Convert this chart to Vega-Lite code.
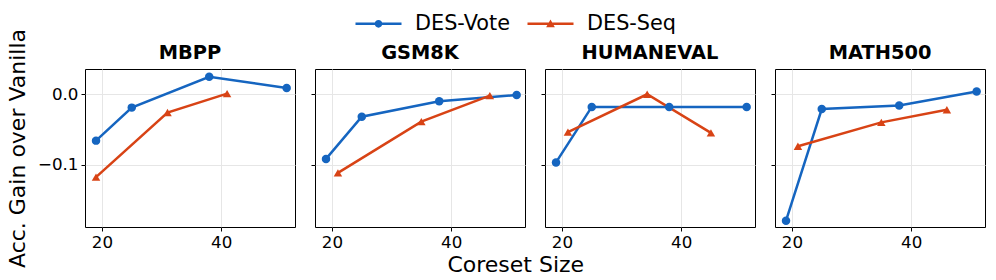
{
  "$schema": "https://vega.github.io/schema/vega-lite/v6.json",
  "padding": {"left": 5, "top": 12, "right": 5, "bottom": 3},
  "background": "white",
  "title": {"text": "Coreset Size", "orient": "bottom", "anchor": "middle", "frame": "bounds", "dx": 20, "fontSize": 22, "font": "DejaVu Sans", "fontWeight": "normal", "offset": -13, "color": "black"},
  "config": {
    "font": "DejaVu Sans",
    "view": {"stroke": "black", "strokeWidth": 1},
    "concat": {"spacing": 14},
    "axis": {"labelFont": "DejaVu Sans", "labelFontSize": 16.7, "labelColor": "black", "tickColor": "black", "tickSize": 4, "domain": false, "gridColor": "#e6e6e6", "gridWidth": 1, "labelPadding": 3, "titleFont": "DejaVu Sans", "titleFontSize": 22, "titleFontWeight": "normal", "titleColor": "black"},
    "title": {"font": "DejaVu Sans", "fontSize": 19.4, "fontWeight": "bold", "color": "black", "offset": 6},
    "legend": {"labelFont": "DejaVu Sans", "labelFontSize": 20.8, "labelColor": "black", "orient": "none", "legendX": 282, "legendY": -57, "direction": "horizontal", "symbolSize": 529, "symbolStrokeWidth": 0, "symbolOpacity": 1, "labelOffset": 25, "columnPadding": 17}
  },
  "data": {"values": [
    {"dataset": "MBPP", "method": "DES-Vote", "size": 19, "gain": -0.066},
    {"dataset": "MBPP", "method": "DES-Vote", "size": 25, "gain": -0.019},
    {"dataset": "MBPP", "method": "DES-Vote", "size": 38, "gain": 0.025},
    {"dataset": "MBPP", "method": "DES-Vote", "size": 51, "gain": 0.009},
    {"dataset": "MBPP", "method": "DES-Seq", "size": 19, "gain": -0.118},
    {"dataset": "MBPP", "method": "DES-Seq", "size": 31, "gain": -0.026},
    {"dataset": "MBPP", "method": "DES-Seq", "size": 41, "gain": 0.001},
    {"dataset": "GSM8K", "method": "DES-Vote", "size": 19, "gain": -0.092},
    {"dataset": "GSM8K", "method": "DES-Vote", "size": 25, "gain": -0.032},
    {"dataset": "GSM8K", "method": "DES-Vote", "size": 38, "gain": -0.010},
    {"dataset": "GSM8K", "method": "DES-Vote", "size": 51, "gain": -0.001},
    {"dataset": "GSM8K", "method": "DES-Seq", "size": 21, "gain": -0.112},
    {"dataset": "GSM8K", "method": "DES-Seq", "size": 35, "gain": -0.039},
    {"dataset": "GSM8K", "method": "DES-Seq", "size": 46.5, "gain": -0.002},
    {"dataset": "HUMANEVAL", "method": "DES-Vote", "size": 19, "gain": -0.097},
    {"dataset": "HUMANEVAL", "method": "DES-Vote", "size": 25, "gain": -0.018},
    {"dataset": "HUMANEVAL", "method": "DES-Vote", "size": 38, "gain": -0.018},
    {"dataset": "HUMANEVAL", "method": "DES-Vote", "size": 51, "gain": -0.018},
    {"dataset": "HUMANEVAL", "method": "DES-Seq", "size": 21, "gain": -0.054},
    {"dataset": "HUMANEVAL", "method": "DES-Seq", "size": 34.3, "gain": 0.0},
    {"dataset": "HUMANEVAL", "method": "DES-Seq", "size": 45, "gain": -0.055},
    {"dataset": "MATH500", "method": "DES-Vote", "size": 19, "gain": -0.180},
    {"dataset": "MATH500", "method": "DES-Vote", "size": 25, "gain": -0.021},
    {"dataset": "MATH500", "method": "DES-Vote", "size": 38, "gain": -0.016},
    {"dataset": "MATH500", "method": "DES-Vote", "size": 51, "gain": 0.004},
    {"dataset": "MATH500", "method": "DES-Seq", "size": 21, "gain": -0.074},
    {"dataset": "MATH500", "method": "DES-Seq", "size": 35, "gain": -0.040},
    {"dataset": "MATH500", "method": "DES-Seq", "size": 46, "gain": -0.022}
  ]},
  "hconcat": [
    {
      "title": {"text": "MBPP", "offset": -35},
      "width": 210, "height": 158,
      "transform": [{"filter": "datum.dataset === 'MBPP'"}],
      "encoding": {
        "x": {"field": "size", "type": "quantitative", "scale": {"domain": [17.15, 52.4], "nice": false, "zero": false}, "axis": {"values": [20, 40], "title": null}},
        "y": {"field": "gain", "type": "quantitative", "scale": {"domain": [-0.189, 0.036], "nice": false, "zero": false}, "axis": {"values": [-0.1, 0.0], "format": ".1f", "title": "Acc. Gain over Vanilla", "titlePadding": 8}},
        "color": {"field": "method", "type": "nominal", "scale": {"domain": ["DES-Vote", "DES-Seq"], "range": ["#1565C0", "#D84315"]}, "legend": {"title": null}}
      },
      "layer": [
        {"mark": {"type": "line", "strokeWidth": 2.5}, "encoding": {"detail": {"field": "method"}}},
        {"transform": [{"filter": "datum.method === 'DES-Vote'"}], "mark": {"type": "point", "shape": "circle", "filled": true, "opacity": 1, "size": 72}},
        {"transform": [{"filter": "datum.method === 'DES-Seq'"}], "mark": {"type": "point", "shape": "triangle-up", "filled": true, "opacity": 1, "size": 72}},
        {"mark": {"type": "point", "filled": true, "opacity": 0, "size": 1}, "encoding": {"shape": {"field": "method", "type": "nominal", "scale": {"domain": ["DES-Vote", "DES-Seq"], "range": ["M-2,-0.11H2V0.11H-2ZM0.33,0A0.33,0.33,0,1,1,-0.33,0A0.33,0.33,0,1,1,0.33,0Z", "M-2,-0.11H2V0.11H-2ZM0,-0.38L0.38,0.3L-0.38,0.3Z"]}, "legend": {"title": null}}}}
      ]
    },
    {
      "title": "GSM8K",
      "width": 210, "height": 158,
      "transform": [{"filter": "datum.dataset === 'GSM8K'"}],
      "encoding": {
        "x": {"field": "size", "type": "quantitative", "scale": {"domain": [17.15, 52.4], "nice": false, "zero": false}, "axis": {"values": [20, 40], "title": null}},
        "y": {"field": "gain", "type": "quantitative", "scale": {"domain": [-0.189, 0.036], "nice": false, "zero": false}, "axis": {"values": [-0.1, 0.0], "labels": false, "title": null}},
        "color": {"field": "method", "type": "nominal", "scale": {"domain": ["DES-Vote", "DES-Seq"], "range": ["#1565C0", "#D84315"]}, "legend": {"title": null}}
      },
      "layer": [
        {"mark": {"type": "line", "strokeWidth": 2.5}, "encoding": {"detail": {"field": "method"}}},
        {"transform": [{"filter": "datum.method === 'DES-Vote'"}], "mark": {"type": "point", "shape": "circle", "filled": true, "opacity": 1, "size": 72}},
        {"transform": [{"filter": "datum.method === 'DES-Seq'"}], "mark": {"type": "point", "shape": "triangle-up", "filled": true, "opacity": 1, "size": 72}}
      ]
    },
    {
      "title": "HUMANEVAL",
      "width": 210, "height": 158,
      "transform": [{"filter": "datum.dataset === 'HUMANEVAL'"}],
      "encoding": {
        "x": {"field": "size", "type": "quantitative", "scale": {"domain": [17.15, 52.4], "nice": false, "zero": false}, "axis": {"values": [20, 40], "title": null}},
        "y": {"field": "gain", "type": "quantitative", "scale": {"domain": [-0.189, 0.036], "nice": false, "zero": false}, "axis": {"values": [-0.1, 0.0], "labels": false, "title": null}},
        "color": {"field": "method", "type": "nominal", "scale": {"domain": ["DES-Vote", "DES-Seq"], "range": ["#1565C0", "#D84315"]}, "legend": {"title": null}}
      },
      "layer": [
        {"mark": {"type": "line", "strokeWidth": 2.5}, "encoding": {"detail": {"field": "method"}}},
        {"transform": [{"filter": "datum.method === 'DES-Vote'"}], "mark": {"type": "point", "shape": "circle", "filled": true, "opacity": 1, "size": 72}},
        {"transform": [{"filter": "datum.method === 'DES-Seq'"}], "mark": {"type": "point", "shape": "triangle-up", "filled": true, "opacity": 1, "size": 72}}
      ]
    },
    {
      "title": "MATH500",
      "width": 210, "height": 158,
      "transform": [{"filter": "datum.dataset === 'MATH500'"}],
      "encoding": {
        "x": {"field": "size", "type": "quantitative", "scale": {"domain": [17.15, 52.4], "nice": false, "zero": false}, "axis": {"values": [20, 40], "title": null}},
        "y": {"field": "gain", "type": "quantitative", "scale": {"domain": [-0.189, 0.036], "nice": false, "zero": false}, "axis": {"values": [-0.1, 0.0], "labels": false, "title": null}},
        "color": {"field": "method", "type": "nominal", "scale": {"domain": ["DES-Vote", "DES-Seq"], "range": ["#1565C0", "#D84315"]}, "legend": {"title": null}}
      },
      "layer": [
        {"mark": {"type": "line", "strokeWidth": 2.5}, "encoding": {"detail": {"field": "method"}}},
        {"transform": [{"filter": "datum.method === 'DES-Vote'"}], "mark": {"type": "point", "shape": "circle", "filled": true, "opacity": 1, "size": 72}},
        {"transform": [{"filter": "datum.method === 'DES-Seq'"}], "mark": {"type": "point", "shape": "triangle-up", "filled": true, "opacity": 1, "size": 72}}
      ]
    }
  ]
}
